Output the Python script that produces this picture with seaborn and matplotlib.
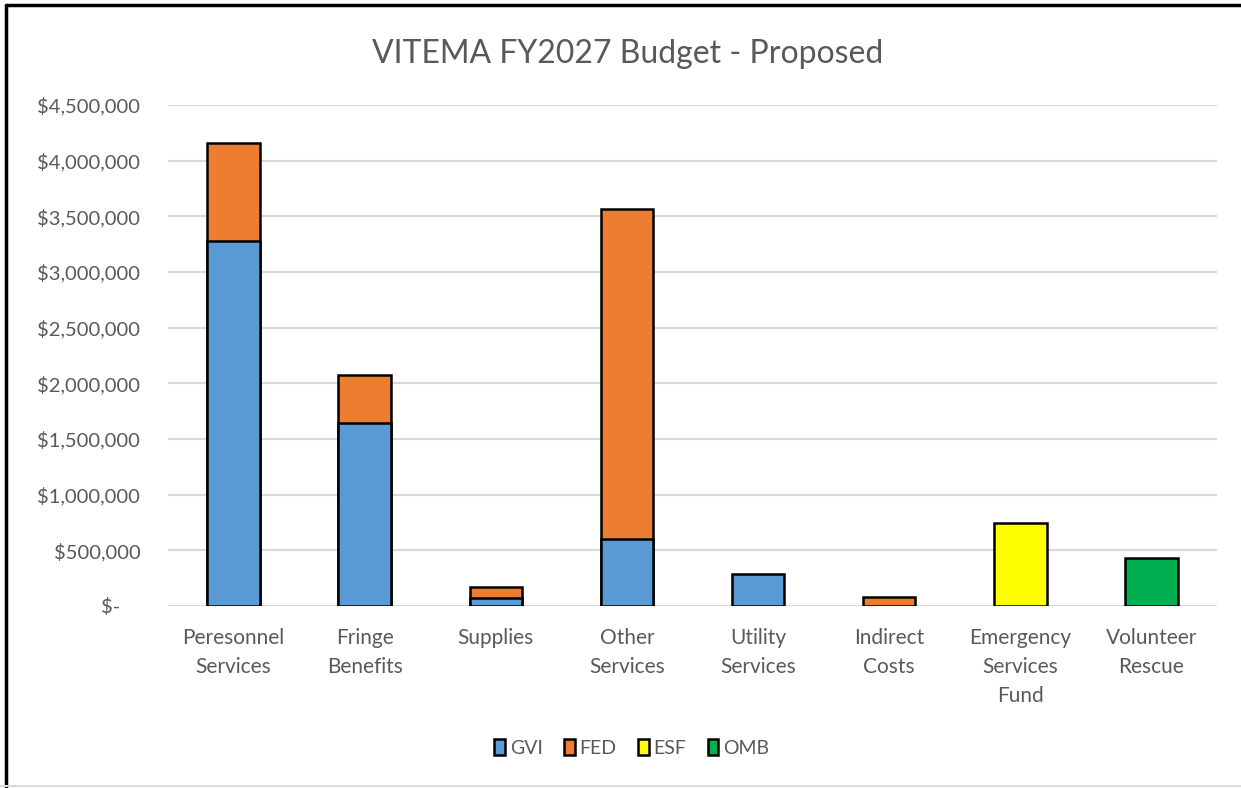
import seaborn as sns
import matplotlib.pyplot as plt
import matplotlib.ticker as mticker
from matplotlib.patches import Patch
from matplotlib.lines import Line2D
import numpy as np
import pandas as pd

# Budget categories and funding sources
categories = ['Peresonnel\nServices', 'Fringe\nBenefits', 'Supplies', 'Other\nServices',
              'Utility\nServices', 'Indirect\nCosts', 'Emergency\nServices\nFund', 'Volunteer\nRescue']
gvi = [3280000, 1645000, 72000, 600000, 290000, 0, 0, 0]
fed = [875000, 428000, 100000, 2967000, 0, 80000, 0, 0]
esf = [0, 0, 0, 0, 0, 0, 745000, 0]
omb = [0, 0, 0, 0, 0, 0, 0, 430000]

sources = ['GVI', 'FED', 'ESF', 'OMB']
colors = {'GVI': '#5B9BD5', 'FED': '#ED7D31', 'ESF': '#FFFF00', 'OMB': '#00B050'}
y_ticks = np.arange(0, 4500001, 500000)

df = pd.DataFrame({'category': categories, 'GVI': gvi, 'FED': fed, 'ESF': esf, 'OMB': omb})

sns.set_style("white")
plt.rcParams['font.family'] = ['Lato', 'DejaVu Sans']

fig = plt.figure(figsize=(12.41, 7.88), dpi=100)
ax = fig.add_axes([0.1354, 0.231, 0.8453, 0.6358])

# stacked bars: draw cumulative heights from the top layer down
cum = df[sources].cumsum(axis=1)
for src in reversed(sources):
    heights = cum[src].where(df[src] > 0)
    sns.barplot(x=df['category'], y=heights, order=categories, color=colors[src],
                saturation=1, width=0.4, edgecolor='black', linewidth=1.8, ax=ax, zorder=3)

ax.set_ylim(0, 4500000)
ax.set_xlim(-0.5, len(categories) - 0.5)
ax.set_yticks(y_ticks)
ax.yaxis.set_major_formatter(mticker.FuncFormatter(
    lambda v, p: '$-    ' if v == 0 else f'${v:,.0f}'))
ax.yaxis.grid(True, color='#D9D9D9', linewidth=1.5, zorder=0)
ax.set_axisbelow(True)
for s in ax.spines.values():
    s.set_visible(False)
ax.tick_params(axis='y', length=0, pad=20, labelsize=14.5, labelcolor='#595959')
ax.tick_params(axis='x', length=0, pad=16, labelsize=15, labelcolor='#595959')
for lbl in ax.get_xticklabels():
    lbl.set_linespacing(1.56)
ax.set_xlabel('')
ax.set_ylabel('')

fig.suptitle('VITEMA FY2027 Budget - Proposed', fontsize=23, color='#595959', x=0.506, y=0.95)

handles = [Patch(facecolor=colors[s], edgecolor='black', linewidth=1.8, label=s) for s in sources]
fig.legend(handles=handles, loc='center', bbox_to_anchor=(0.509, 0.051), ncol=4, frameon=False,
           fontsize=14, labelcolor='#595959', handlelength=0.55, handleheight=0.9,
           handletextpad=0.25, columnspacing=1.1)

# chart area border
fig.add_artist(Line2D([0.005, 0.005], [0.0, 0.994], color='black', linewidth=2.5, transform=fig.transFigure))
fig.add_artist(Line2D([0.005, 1.0], [0.994, 0.994], color='black', linewidth=2.5, transform=fig.transFigure))
fig.add_artist(Line2D([0.0, 1.0], [0.002, 0.002], color='#D9D9D9', linewidth=1.5, transform=fig.transFigure))

fig.savefig('out.png', dpi=100)
